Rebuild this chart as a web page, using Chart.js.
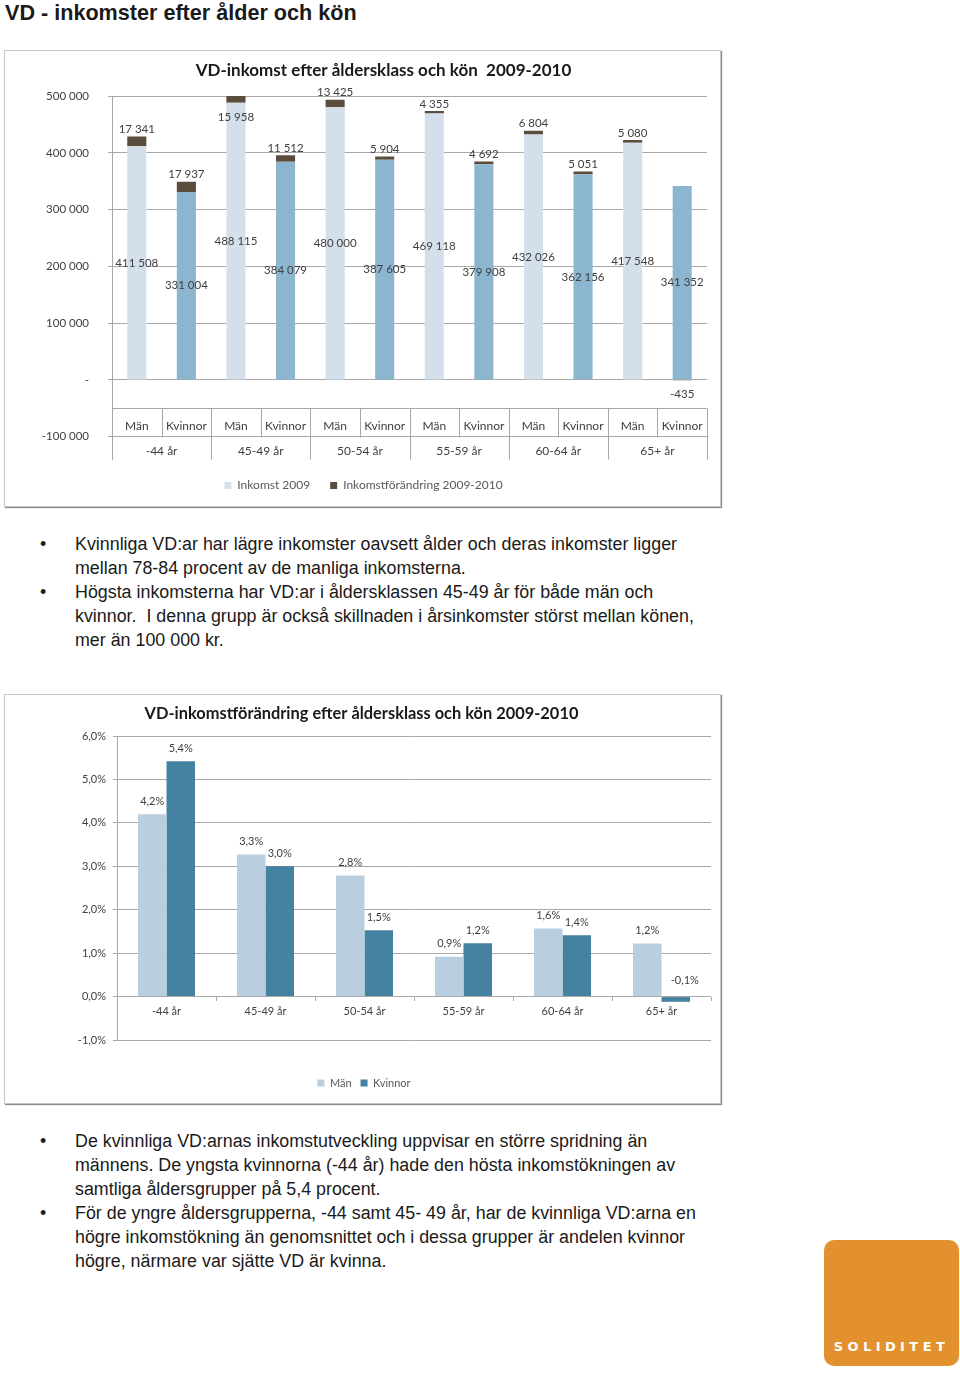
<!doctype html>
<html lang="sv">
<head>
<meta charset="UTF-8">
<title>VD - inkomster efter ålder och kön</title>
<script src="https://cdn.jsdelivr.net/npm/chart.js@4.4.1/dist/chart.umd.min.js"></script>
<style>
  body { margin: 0; background: #fff; font-family: "Liberation Sans", Arial, sans-serif; color: #1a1a1a; }
  .page { position: relative; width: 960px; height: 1376px; overflow: hidden; }
  h1 { position: absolute; left: 5px; top: 1px; margin: 0; font-size: 21.6px; line-height: 24px; font-weight: bold; }
  .box { position: absolute; left: 4px; width: 715px; border: 1px solid #c6c6c6; box-shadow: 1px 1px 1px #8f8f8f; background: #fff; }
  .box canvas { display: block; }
  .item { position: absolute; left: 75px; font-size: 17.85px; line-height: 24px; white-space: pre; }
  .item::before { content: "\2022"; position: absolute; left: -35px; }
  .logo { position: absolute; left: 824px; top: 1240px; width: 135px; height: 126px; background: #e2912e; border-radius: 10px; }
  .logo span { position: absolute; left: 0; right: 0; top: 99px; text-align: center; color: #fff; font: bold 13px "DejaVu Sans", sans-serif; letter-spacing: 4.4px; line-height: 16px; }
</style>
</head>
<body>
<div class="page">
  <h1>VD - inkomster efter ålder och kön</h1>

  <div class="box" style="top:50px; height:455px;">
    <canvas id="incomeChart" width="715" height="455"></canvas>
  </div>

  <div class="item" style="top:532px;">Kvinnliga VD:ar har lägre inkomster oavsett ålder och deras inkomster ligger
mellan 78-84 procent av de manliga inkomsterna.</div>
  <div class="item" style="top:580px;">Högsta inkomsterna har VD:ar i åldersklassen 45-49 år för både män och
kvinnor.  I denna grupp är också skillnaden i årsinkomster störst mellan könen,
mer än 100 000 kr.</div>

  <div class="box" style="top:694px; height:408px;">
    <canvas id="changeChart" width="715" height="408"></canvas>
  </div>

  <div class="item" style="top:1129px;">De kvinnliga VD:arnas inkomstutveckling uppvisar en större spridning än
männens. De yngsta kvinnorna (-44 år) hade den hösta inkomstökningen av
samtliga åldersgrupper på 5,4 procent.</div>
  <div class="item" style="top:1201px;">För de yngre åldersgrupperna, -44 samt 45- 49 år, har de kvinnliga VD:arna en
högre inkomstökning än genomsnittet och i dessa grupper är andelen kvinnor
högre, närmare var sjätte VD är kvinna.</div>

  <div class="logo"><span>SOLIDITET</span></div>
</div>

<script>
// data
const ageGroups = ['-44 år', '45-49 år', '50-54 år', '55-59 år', '60-64 år', '65+ år'];
const genders = ['Män', 'Kvinnor'];
const barLabels = ageGroups.flatMap(a => genders.map(g => g + ' ' + a));

const income2009 = [411508, 331004, 488115, 384079, 480000, 387605, 469118, 379908, 432026, 362156, 417548, 341352];
const incomeChange = [17341, 17937, 15958, 11512, 13425, 5904, 4355, 4692, 6804, 5051, 5080, -435];
const incomeTicks = [-100000, 0, 100000, 200000, 300000, 400000, 500000];

const changeMen = [4.2, 3.27, 2.79, 0.92, 1.57, 1.22];
const changeWomen = [5.42, 3.0, 1.53, 1.23, 1.41, -0.12];

const gridColor = '#a8a8a8';
const textColor = '#404040';

Chart.defaults.font.family = 'Lato, "Open Sans", sans-serif';
Chart.defaults.font.size = 11;
Chart.defaults.color = textColor;

function fmtKr(v) {
  const s = String(Math.abs(Math.round(v))).replace(/\B(?=(\d{3})+(?!\d))/g, ' ');
  return (v < 0 ? '-' : '') + s;
}
function fmtPct(v) {
  return v.toFixed(1).replace('.', ',') + '%';
}

// Excel style two level category table under the bars
const categoryTable = {
  id: 'categoryTable',
  afterDatasetsDraw(chart) {
    const {ctx, chartArea, scales: {x, y}} = chart;
    const top = Math.round(y.getPixelForValue(-50000)) + 0.5;
    const mid = Math.round(y.getPixelForValue(-100000)) + 0.5;
    const bottom = chartArea.bottom;
    const slot = (x.right - x.left) / barLabels.length;
    ctx.save();
    ctx.strokeStyle = gridColor;
    ctx.lineWidth = 1;
    ctx.beginPath();
    ctx.moveTo(x.left, top);
    ctx.lineTo(x.right, top);
    for (let i = 1; i <= barLabels.length; i++) {
      const px = Math.round(x.left + i * slot) + 0.5;
      ctx.moveTo(px, top);
      ctx.lineTo(px, i % 2 === 0 ? bottom : mid);
    }
    ctx.stroke();
    ctx.fillStyle = textColor;
    ctx.font = '12px Lato';
    ctx.textAlign = 'center';
    ctx.textBaseline = 'middle';
    barLabels.forEach((l, i) => {
      ctx.fillText(genders[i % 2], x.getPixelForValue(i), (top + mid) / 2 + 3);
    });
    ageGroups.forEach((a, g) => {
      ctx.fillText(a, x.left + (g * 2 + 1) * slot, (mid + bottom) / 2 + 3);
    });
    ctx.restore();
  }
};

const incomeLabels = {
  id: 'incomeLabels',
  afterDatasetsDraw(chart) {
    const {ctx, chartArea} = chart;
    ctx.save();
    ctx.font = '11.5px Lato';
    ctx.fillStyle = textColor;
    ctx.textAlign = 'center';
    ctx.textBaseline = 'middle';
    chart.getDatasetMeta(0).data.forEach((bar, i) => {
      ctx.fillText(fmtKr(income2009[i]), bar.x, (bar.y + bar.base) / 2);
    });
    chart.getDatasetMeta(1).data.forEach((bar, i) => {
      const v = incomeChange[i];
      let ly = bar.y - 7;
      if (v < 0) ly = bar.y + 14;
      else if (bar.y < chartArea.top) ly = chartArea.top + 21;
      ctx.fillText(fmtKr(v), bar.x, ly);
    });
    ctx.restore();
  }
};

// the Excel title and legend are not centred on the canvas
const shiftBlocks = (dTitle, dLegend) => ({
  id: 'shiftBlocks',
  afterLayout(chart) {
    chart.titleBlock.left += dTitle;
    chart.legend.left += dLegend;
  }
});

new Chart(document.getElementById('incomeChart'), {
  type: 'bar',
  data: {
    labels: barLabels,
    datasets: [
      {
        label: 'Inkomst 2009',
        data: income2009,
        backgroundColor: c => (c.dataIndex % 2 === 1 ? '#8cb6d0' : '#d3e0eb')
      },
      {
        label: 'Inkomstförändring 2009-2010',
        data: incomeChange,
        backgroundColor: '#5b4d3b'
      }
    ]
  },
  options: {
    responsive: false,
    animation: false,
    events: [],
    layout: { padding: { left: 0, right: 13, top: 0, bottom: 4.5 } },
    datasets: { bar: { barPercentage: 0.385, categoryPercentage: 1 } },
    scales: {
      x: { stacked: true, display: false },
      y: {
        stacked: true,
        min: -140000,
        max: 500000,
        afterBuildTicks(scale) { scale.ticks = incomeTicks.map(v => ({ value: v })); },
        afterFit(scale) { scale.width = 107; },
        grid: { color: gridColor, tickLength: 4 },
        border: { color: gridColor },
        ticks: { padding: 19, color: textColor, font: { size: 11.5 }, callback: v => (v === 0 ? '-' : fmtKr(v)) }
      }
    },
    plugins: {
      title: {
        display: true,
        text: 'VD-inkomst efter åldersklass och kön  2009-2010',
        color: '#1a1a1a',
        font: { size: 17, weight: 'bold' },
        padding: { top: 9.8, bottom: 14.8 }
      },
      legend: {
        position: 'bottom',
        labels: { boxWidth: 7, boxHeight: 7, padding: 20, color: '#595959', font: { size: 12 } }
      },
      tooltip: { enabled: false }
    }
  },
  plugins: [categoryTable, incomeLabels, shiftBlocks(55, 15)]
});

const changeLabels = {
  id: 'changeLabels',
  afterDatasetsDraw(chart) {
    const {ctx} = chart;
    ctx.save();
    ctx.font = '11px Lato';
    ctx.fillStyle = textColor;
    ctx.textAlign = 'center';
    ctx.textBaseline = 'middle';
    chart.data.datasets.forEach((ds, di) => {
      chart.getDatasetMeta(di).data.forEach((bar, i) => {
        const v = ds.data[i];
        if (v < 0) ctx.fillText(fmtPct(v), bar.x + 9, bar.base - 17);
        else ctx.fillText(fmtPct(v), bar.x, bar.y - 13);
      });
    });
    ctx.restore();
  }
};

new Chart(document.getElementById('changeChart'), {
  type: 'bar',
  data: {
    labels: ageGroups,
    datasets: [
      { label: 'Män', data: changeMen, backgroundColor: '#b9cfdf', xAxisID: 'x' },
      { label: 'Kvinnor', data: changeWomen, backgroundColor: '#4581a1', xAxisID: 'x' }
    ]
  },
  options: {
    responsive: false,
    animation: false,
    events: [],
    layout: { padding: { left: 0, right: 9, top: 0, bottom: 4.5 } },
    datasets: { bar: { barPercentage: 1, categoryPercentage: 0.576 } },
    scales: {
      x: {
        position: { y: 0 },
        grid: { drawOnChartArea: false, color: gridColor, tickLength: 4 },
        border: { display: false },
        ticks: { padding: 4, color: textColor }
      },
      gap: {
        type: 'category',
        position: 'bottom',
        labels: [''],
        grid: { display: false, drawTicks: false },
        border: { display: false },
        ticks: { display: false },
        afterFit(scale) { scale.height = 28.5; }
      },
      y: {
        min: -1,
        max: 6,
        ticks: { stepSize: 1, padding: 7, color: textColor, callback: v => fmtPct(v) },
        afterFit(scale) { scale.width = 112; },
        grid: { color: gridColor, tickLength: 4 },
        border: { color: gridColor }
      }
    },
    plugins: {
      title: {
        display: true,
        text: 'VD-inkomstförändring efter åldersklass och kön 2009-2010',
        color: '#1a1a1a',
        font: { size: 16.4, weight: 'bold' },
        padding: { top: 9.2, bottom: 12.2 }
      },
      legend: {
        position: 'bottom',
        labels: { boxWidth: 7, boxHeight: 7, padding: 9, color: '#595959', font: { size: 11 } }
      },
      tooltip: { enabled: false }
    }
  },
  plugins: [changeLabels, shiftBlocks(7, 12)]
});
</script>
</body>
</html>
